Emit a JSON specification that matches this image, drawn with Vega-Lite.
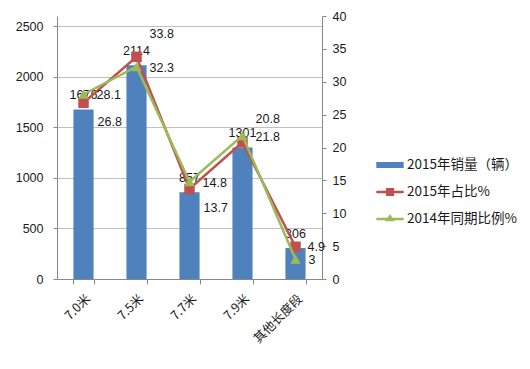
{
  "$schema": "https://vega.github.io/schema/vega-lite/v6.json",
  "autosize": "none",
  "width": 265,
  "height": 263,
  "padding": {"left": 57, "top": 16, "right": 208, "bottom": 90},
  "background": "white",
  "config": {
    "view": {"stroke": null},
    "font": "Liberation Sans",
    "axis": {"labelFont": "Liberation Sans", "labelFontSize": 12.5, "labelColor": "#1a1a1a", "domainColor": "#888888", "tickColor": "#888888", "gridColor": "#c0c0c0", "labelOverlap": false}
  },
  "data": {
    "values": [
      {"len": "7.0米", "sales": 1676, "share2015": 26.8, "share2014": 28.1, "pos": "below"},
      {"len": "7.5米", "sales": 2114, "share2015": 33.8, "share2014": 32.3, "pos": "above"},
      {"len": "7.7米", "sales": 857, "share2015": 13.7, "share2014": 14.8, "pos": "below"},
      {"len": "7.9米", "sales": 1301, "share2015": 20.8, "share2014": 21.8, "pos": "above"},
      {"len": "其他长度段", "sales": 306, "share2015": 4.9, "share2014": 3, "pos": "level"}
    ]
  },
  "encoding": {
    "x": {
      "field": "len", "type": "nominal", "sort": null,
      "scale": {"paddingInner": 0.62, "paddingOuter": 0.31},
      "axis": {"title": null, "labelAngle": -45, "labelFont": "Noto Sans CJK SC", "labelFontSize": 12.5, "tickBand": "extent", "tickSize": 5, "labelPadding": 8, "domainColor": "#888888"}
    }
  },
  "layer": [
    {
      "layer": [
        {
          "mark": {"type": "bar"},
          "encoding": {
            "y": {"field": "sales", "type": "quantitative", "scale": {"domain": [0, 2500]},
              "axis": {"title": null, "values": [0, 500, 1000, 1500, 2000, 2500], "format": "d", "tickSize": 4, "labelPadding": 10, "grid": true}},
            "color": {
              "datum": "2015年销量（辆）", "type": "nominal",
              "scale": {"domain": ["2015年销量（辆）", "2015年占比%", "2014年同期比例%"], "range": ["#4F81BD", "#C0504D", "#9BBB59"]},
              "legend": {
                "title": null, "orient": "none", "legendX": 319, "legendY": 135,
                "labelFont": "Noto Sans CJK SC", "labelFontSize": 13.5, "labelColor": "#1a1a1a",
                "rowPadding": 6, "symbolSize": 750, "symbolStrokeWidth": 0, "labelOffset": 3,
                "encode": {
                  "symbols": {
                    "update": {
                      "shape": {"signal": "datum.value === '2015年销量（辆）' ? 'M-1,-0.22H1V0.22H-1Z' : datum.value === '2015年占比%' ? 'M-1,-0.1H-0.3V-0.3H0.3V-0.1H1V0.1H0.3V0.3H-0.3V0.1H-1Z' : 'M-1,-0.1H-0.18L0,-0.36L0.18,-0.1H1V0.1H0.32L0.36,0.16H-0.36L-0.32,0.1H-1Z'"},
                      "strokeWidth": {"value": 0}
                    }
                  }
                }
              }
            }
          }
        },
        {
          "mark": {"type": "text", "dy": -14, "fontSize": 12.5, "color": "#1a1a1a"},
          "encoding": {
            "y": {"field": "sales", "type": "quantitative"},
            "text": {"field": "sales", "type": "quantitative"}
          }
        }
      ]
    },
    {
      "layer": [
        {
          "mark": {"type": "line", "strokeWidth": 2.5, "point": {"shape": "square", "size": 110, "filled": true}},
          "encoding": {
            "y": {"field": "share2015", "type": "quantitative", "scale": {"domain": [0, 40]},
              "axis": {"title": null, "orient": "right", "values": [0, 5, 10, 15, 20, 25, 30, 35, 40], "tickSize": 4, "labelPadding": 6, "grid": false}},
            "color": {"datum": "2015年占比%", "type": "nominal"}
          }
        },
        {
          "mark": {"type": "line", "strokeWidth": 2.5, "point": {"shape": "triangle-up", "size": 110, "filled": true}},
          "encoding": {
            "y": {"field": "share2014", "type": "quantitative",
              "axis": {"title": null, "orient": "right", "values": [0, 5, 10, 15, 20, 25, 30, 35, 40], "tickSize": 4, "labelPadding": 6, "grid": false}},
            "color": {"datum": "2014年同期比例%", "type": "nominal"}
          }
        },
        {
          "mark": {"type": "text", "align": "left", "dx": 13, "dy": 1, "fontSize": 12.5, "color": "#1a1a1a"},
          "encoding": {
            "y": {"field": "share2014", "type": "quantitative",
              "axis": {"title": null, "orient": "right", "values": [0, 5, 10, 15, 20, 25, 30, 35, 40], "tickSize": 4, "labelPadding": 6, "grid": false}},
            "text": {"field": "share2014", "type": "quantitative"}
          }
        },
        {
          "transform": [{"filter": "datum.pos === 'below'"}],
          "mark": {"type": "text", "align": "left", "dx": 14, "dy": 19, "fontSize": 12.5, "color": "#1a1a1a"},
          "encoding": {
            "y": {"field": "share2015", "type": "quantitative",
              "axis": {"title": null, "orient": "right", "values": [0, 5, 10, 15, 20, 25, 30, 35, 40], "tickSize": 4, "labelPadding": 6, "grid": false}},
            "text": {"field": "share2015", "type": "quantitative"}
          }
        },
        {
          "transform": [{"filter": "datum.pos === 'above'"}],
          "mark": {"type": "text", "align": "left", "dx": 13, "dy": -23, "fontSize": 12.5, "color": "#1a1a1a"},
          "encoding": {
            "y": {"field": "share2015", "type": "quantitative",
              "axis": {"title": null, "orient": "right", "values": [0, 5, 10, 15, 20, 25, 30, 35, 40], "tickSize": 4, "labelPadding": 6, "grid": false}},
            "text": {"field": "share2015", "type": "quantitative"}
          }
        },
        {
          "transform": [{"filter": "datum.pos === 'level'"}],
          "mark": {"type": "text", "align": "left", "dx": 12, "dy": 0, "fontSize": 12.5, "color": "#1a1a1a"},
          "encoding": {
            "y": {"field": "share2015", "type": "quantitative",
              "axis": {"title": null, "orient": "right", "values": [0, 5, 10, 15, 20, 25, 30, 35, 40], "tickSize": 4, "labelPadding": 6, "grid": false}},
            "text": {"field": "share2015", "type": "quantitative"}
          }
        }
      ]
    }
  ],
  "resolve": {"scale": {"y": "independent"}}
}
